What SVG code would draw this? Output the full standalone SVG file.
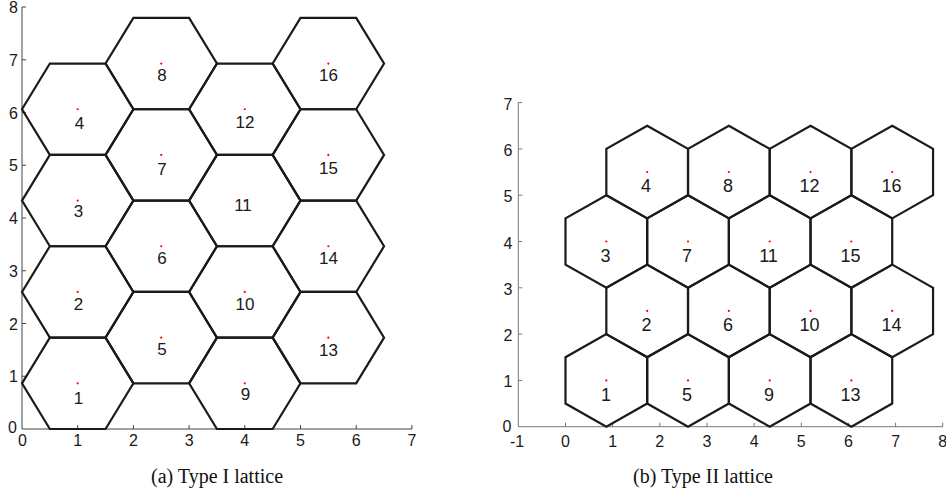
<svg xmlns="http://www.w3.org/2000/svg" xmlns:xlink="http://www.w3.org/1999/xlink" width="946" height="495" viewBox="0 0 946 495">
<style>
.hex{fill:none;stroke:#1a1a1a;stroke-width:2.2;stroke-linejoin:miter}
.dot{fill:#ff0000}
.axis{fill:none;stroke:#444;stroke-width:1}
.axis2{fill:none;stroke:#777;stroke-width:1}
.tk{font-family:"Liberation Sans",Arial,sans-serif;font-size:16px;fill:#1a1a1a}
.lbl{font-family:"Liberation Sans",Arial,sans-serif;font-size:17px;fill:#1a1a1a;text-anchor:middle}
.lbl2{font-family:"Liberation Sans",Arial,sans-serif;font-size:18px;fill:#1a1a1a;text-anchor:middle}
.cap{font-family:"Liberation Serif","Times New Roman",serif;font-size:20px;fill:#111;text-anchor:middle}
</style>
<defs>
<polygon id="hA" points="-55.7,0 -27.85,-45.68 27.85,-45.68 55.7,0 27.85,45.68 -27.85,45.68"/>
<polygon id="hB" points="0,-46.3 40.84,-23.15 40.84,23.15 0,46.3 -40.84,23.15 -40.84,-23.15"/>
</defs>
<rect width="946" height="495" fill="#fff"/>

<g id="axes-a">
<path class="axis" d="M22,7V429H412M22,7h4M22,59.75h4M22,112.5h4M22,165.25h4M22,218h4M22,270.75h4M22,323.5h4M22,376.25h4M77.7,429v-4M133.4,429v-4M189.1,429v-4M244.8,429v-4M300.5,429v-4M356.2,429v-4M411.9,429v-4"/>
<g class="tk" text-anchor="end">
<text x="18" y="13">8</text><text x="18" y="65.75">7</text><text x="18" y="118.5">6</text><text x="18" y="171.25">5</text><text x="18" y="224">4</text><text x="18" y="276.75">3</text><text x="18" y="329.5">2</text><text x="18" y="382.25">1</text><text x="17" y="433">0</text>
</g>
<g class="tk" text-anchor="middle">
<text x="22.5" y="446">0</text><text x="77.7" y="446">1</text><text x="133.4" y="446">2</text><text x="189.1" y="446">3</text><text x="244.8" y="446">4</text><text x="300.5" y="446">5</text><text x="356.2" y="446">6</text><text x="411.9" y="446">7</text>
</g>
</g>

<g id="lattice-a">
<g id="a1"><use href="#hA" class="hex" x="77.7" y="383.32"/><circle class="dot" cx="77.7" cy="383.32" r="1.1"/><text class="lbl" x="78.5" y="404">1</text></g>
<g id="a2"><use href="#hA" class="hex" x="77.7" y="291.95"/><circle class="dot" cx="77.7" cy="291.95" r="1.1"/><text class="lbl" x="78.5" y="310">2</text></g>
<g id="a3"><use href="#hA" class="hex" x="77.7" y="200.59"/><circle class="dot" cx="77.7" cy="200.59" r="1.1"/><text class="lbl" x="78.5" y="217">3</text></g>
<g id="a4"><use href="#hA" class="hex" x="77.7" y="109.23"/><circle class="dot" cx="77.7" cy="109.23" r="1.1"/><text class="lbl" x="79.5" y="129">4</text></g>
<g id="a5"><use href="#hA" class="hex" x="161.25" y="337.64"/><circle class="dot" cx="161.25" cy="337.64" r="1.1"/><text class="lbl" x="162" y="355">5</text></g>
<g id="a6"><use href="#hA" class="hex" x="161.25" y="246.27"/><circle class="dot" cx="161.25" cy="246.27" r="1.1"/><text class="lbl" x="162" y="264">6</text></g>
<g id="a7"><use href="#hA" class="hex" x="161.25" y="154.91"/><circle class="dot" cx="161.25" cy="154.91" r="1.1"/><text class="lbl" x="162" y="175">7</text></g>
<g id="a8"><use href="#hA" class="hex" x="161.25" y="63.55"/><circle class="dot" cx="161.25" cy="63.55" r="1.1"/><text class="lbl" x="162" y="81">8</text></g>
<g id="a9"><use href="#hA" class="hex" x="244.8" y="383.32"/><circle class="dot" cx="244.8" cy="383.32" r="1.1"/><text class="lbl" x="245.5" y="400">9</text></g>
<g id="a10"><use href="#hA" class="hex" x="244.8" y="291.95"/><circle class="dot" cx="244.8" cy="291.95" r="1.1"/><text class="lbl" x="245" y="310">10</text></g>
<g id="a11"><use href="#hA" class="hex" x="244.8" y="200.59"/><circle class="dot" cx="244.8" cy="200.59" r="1.1"/><text class="lbl" x="243" y="210.5">11</text></g>
<g id="a12"><use href="#hA" class="hex" x="244.8" y="109.23"/><circle class="dot" cx="244.8" cy="109.23" r="1.1"/><text class="lbl" x="245" y="128">12</text></g>
<g id="a13"><use href="#hA" class="hex" x="328.35" y="337.64"/><circle class="dot" cx="328.35" cy="337.64" r="1.1"/><text class="lbl" x="328.5" y="356">13</text></g>
<g id="a14"><use href="#hA" class="hex" x="328.35" y="246.27"/><circle class="dot" cx="328.35" cy="246.27" r="1.1"/><text class="lbl" x="328.5" y="264">14</text></g>
<g id="a15"><use href="#hA" class="hex" x="328.35" y="154.91"/><circle class="dot" cx="328.35" cy="154.91" r="1.1"/><text class="lbl" x="328.5" y="174">15</text></g>
<g id="a16"><use href="#hA" class="hex" x="328.35" y="63.55"/><circle class="dot" cx="328.35" cy="63.55" r="1.1"/><text class="lbl" x="328.5" y="81">16</text></g>
</g>

<g id="axes-b">
<path class="axis2" d="M518.3,102.6V426.7H942.7M518.3,102.6h4M518.3,148.9h4M518.3,195.2h4M518.3,241.5h4M518.3,287.8h4M518.3,334.1h4M518.3,380.4h4M565.5,426.7v-4M612.6,426.7v-4M659.8,426.7v-4M707,426.7v-4M754.1,426.7v-4M801.3,426.7v-4M848.4,426.7v-4M895.6,426.7v-4M942.7,426.7v-4"/>
<g class="tk" text-anchor="end">
<text x="512.5" y="109.6">7</text><text x="512.5" y="155.9">6</text><text x="512.5" y="202.2">5</text><text x="512.5" y="248.5">4</text><text x="512.5" y="294.8">3</text><text x="512.5" y="341.1">2</text><text x="512.5" y="387.4">1</text><text x="511.5" y="431.5">0</text>
</g>
<g class="tk" text-anchor="middle">
<text x="517" y="446.5">-1</text><text x="565.5" y="446.5">0</text><text x="612.6" y="446.5">1</text><text x="659.8" y="446.5">2</text><text x="707" y="446.5">3</text><text x="754.1" y="446.5">4</text><text x="801.3" y="446.5">5</text><text x="848.4" y="446.5">6</text><text x="895.6" y="446.5">7</text><text x="942.7" y="446.5">8</text>
</g>
</g>

<g id="lattice-b">
<g id="b1"><use href="#hB" class="hex" x="606.34" y="380.4"/><circle class="dot" cx="606.34" cy="380.4" r="1.1"/><text class="lbl2" x="606" y="400.5">1</text></g>
<g id="b2"><use href="#hB" class="hex" x="647.18" y="310.95"/><circle class="dot" cx="647.18" cy="310.95" r="1.1"/><text class="lbl2" x="646.5" y="331">2</text></g>
<g id="b3"><use href="#hB" class="hex" x="606.34" y="241.5"/><circle class="dot" cx="606.34" cy="241.5" r="1.1"/><text class="lbl2" x="605.5" y="261.5">3</text></g>
<g id="b4"><use href="#hB" class="hex" x="647.18" y="172.05"/><circle class="dot" cx="647.18" cy="172.05" r="1.1"/><text class="lbl2" x="646" y="192">4</text></g>
<g id="b5"><use href="#hB" class="hex" x="688.02" y="380.4"/><circle class="dot" cx="688.02" cy="380.4" r="1.1"/><text class="lbl2" x="687" y="400.5">5</text></g>
<g id="b6"><use href="#hB" class="hex" x="728.86" y="310.95"/><circle class="dot" cx="728.86" cy="310.95" r="1.1"/><text class="lbl2" x="728" y="331">6</text></g>
<g id="b7"><use href="#hB" class="hex" x="688.02" y="241.5"/><circle class="dot" cx="688.02" cy="241.5" r="1.1"/><text class="lbl2" x="687" y="261.5">7</text></g>
<g id="b8"><use href="#hB" class="hex" x="728.86" y="172.05"/><circle class="dot" cx="728.86" cy="172.05" r="1.1"/><text class="lbl2" x="728" y="192">8</text></g>
<g id="b9"><use href="#hB" class="hex" x="769.7" y="380.4"/><circle class="dot" cx="769.7" cy="380.4" r="1.1"/><text class="lbl2" x="769" y="400.5">9</text></g>
<g id="b10"><use href="#hB" class="hex" x="810.54" y="310.95"/><circle class="dot" cx="810.54" cy="310.95" r="1.1"/><text class="lbl2" x="809.5" y="331">10</text></g>
<g id="b11"><use href="#hB" class="hex" x="769.7" y="241.5"/><circle class="dot" cx="769.7" cy="241.5" r="1.1"/><text class="lbl2" x="768.5" y="261.5">11</text></g>
<g id="b12"><use href="#hB" class="hex" x="810.54" y="172.05"/><circle class="dot" cx="810.54" cy="172.05" r="1.1"/><text class="lbl2" x="809.5" y="192">12</text></g>
<g id="b13"><use href="#hB" class="hex" x="851.38" y="380.4"/><circle class="dot" cx="851.38" cy="380.4" r="1.1"/><text class="lbl2" x="850.5" y="400.5">13</text></g>
<g id="b14"><use href="#hB" class="hex" x="892.22" y="310.95"/><circle class="dot" cx="892.22" cy="310.95" r="1.1"/><text class="lbl2" x="891.5" y="331">14</text></g>
<g id="b15"><use href="#hB" class="hex" x="851.38" y="241.5"/><circle class="dot" cx="851.38" cy="241.5" r="1.1"/><text class="lbl2" x="850.5" y="261.5">15</text></g>
<g id="b16"><use href="#hB" class="hex" x="892.22" y="172.05"/><circle class="dot" cx="892.22" cy="172.05" r="1.1"/><text class="lbl2" x="891.5" y="192">16</text></g>
</g>

<g id="captions">
<text class="cap" x="217" y="483">(a) Type I lattice</text>
<text class="cap" x="703" y="483">(b) Type II lattice</text>
</g>
</svg>
